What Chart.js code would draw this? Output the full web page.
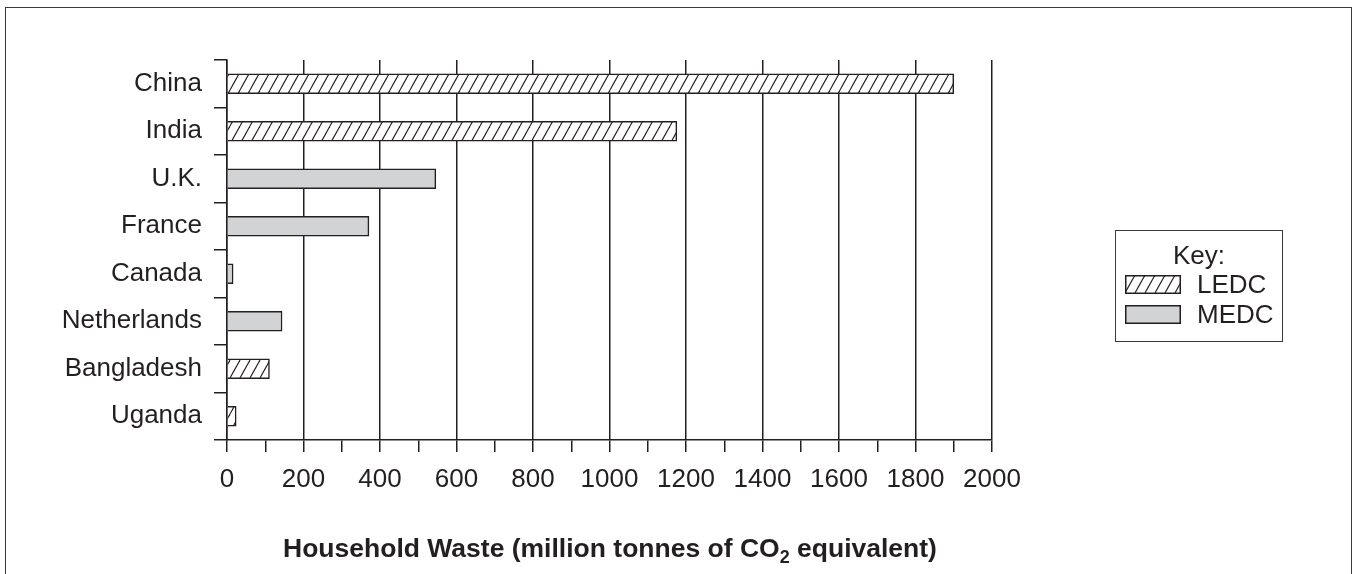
<!DOCTYPE html>
<html>
<head>
<meta charset="utf-8">
<script src="https://cdn.jsdelivr.net/npm/chart.js@4"></script>
<style>
  html, body { margin: 0; padding: 0; background: #fff; overflow: hidden; }
  body { width: 1357px; height: 574px; position: relative; font-family: "Liberation Sans", Arial, sans-serif; color: #231f20; }
  #frame { position: absolute; left: 5px; top: 7px; width: 1347px; height: 620px; border: 1.5px solid #3a3a3a; box-sizing: border-box; }
  #chart { position: absolute; left: 0; top: 0; }
  #xtitle { position: absolute; left: 0; width: 1220px; top: 533px; text-align: center; font-weight: bold; font-size: 26.5px; white-space: nowrap; }
  #xtitle sub { font-size: 18px; vertical-align: -6px; line-height: 0; }
  #key { position: absolute; left: 1115px; top: 230px; width: 168px; height: 112px; border: 1.5px solid #3a3a3a; box-sizing: border-box; font-size: 26px; }
  #key .ttl { position: absolute; left: 0; width: 100%; top: 9px; text-align: center; line-height: 30px; }
  #key .row { position: absolute; left: 9px; height: 30px; line-height: 30px; white-space: nowrap; }
  #key canvas { vertical-align: middle; margin-right: 16px; position: relative; top: -2px; }
</style>
</head>
<body>
<div id="frame"></div>
<canvas id="chart" width="1357" height="574"></canvas>
<div id="xtitle">Household Waste (million tonnes of CO<sub>2</sub> equivalent)</div>
<div id="key">
  <div class="ttl">Key:</div>
  <div class="row" style="top:38px"><canvas id="swLedc" width="56" height="19"></canvas>LEDC</div>
  <div class="row" style="top:68px"><canvas id="swMedc" width="56" height="19"></canvas>MEDC</div>
</div>
<script>
const countries = ["China", "India", "U.K.", "France", "Canada", "Netherlands", "Bangladesh", "Uganda"];
const waste = [1900, 1176, 546, 371, 16, 144, 111, 24];
const groups = ["LEDC", "LEDC", "MEDC", "MEDC", "MEDC", "MEDC", "LEDC", "LEDC"];
const xTicks = [0, 200, 400, 600, 800, 1000, 1200, 1400, 1600, 1800, 2000];

const ink = "#231f20";
const grey = "#d1d3d4";

function hatch(ctx) {
    let w = 10, h = 18;
    let c = document.createElement("canvas");
    c.width = w;
    c.height = h;
    let g = c.getContext("2d");
    g.fillStyle = "#fff";
    g.fillRect(0, 0, w, h);
    g.strokeStyle = ink;
    g.lineWidth = 1.1;
    for (let k = -1; k <= 1; k++) {
        g.beginPath();
        g.moveTo(k * w, h);
        g.lineTo(k * w + w, 0);
        g.stroke();
    }
    return ctx.createPattern(c, "repeat");
}

function swatch(id, fill) {
    let c = document.getElementById(id);
    let g = c.getContext("2d");
    g.fillStyle = fill === "hatch" ? hatch(g) : grey;
    g.fillRect(0, 0, c.width, c.height);
    g.strokeStyle = ink;
    g.lineWidth = 1.5;
    g.strokeRect(0.75, 0.75, c.width - 1.5, c.height - 1.5);
}

swatch("swLedc", "hatch");
swatch("swMedc", "grey");

const ctx = document.getElementById("chart").getContext("2d");
const pattern = hatch(ctx);

Chart.defaults.font.family = "'Liberation Sans', Arial, sans-serif";
Chart.defaults.font.size = 26;
Chart.defaults.color = ink;

new Chart(ctx, {
    type: "bar",
    data: {
        labels: countries,
        datasets: [{
            data: waste,
            backgroundColor: groups.map(g => g == "LEDC" ? pattern : grey),
            borderColor: ink,
            borderWidth: 1.5,
            barThickness: 20
        }]
    },
    options: {
        indexAxis: "y",
        responsive: false,
        animation: false,
        devicePixelRatio: 1,
        layout: { padding: { left: 0, top: 60, right: 365, bottom: 0 } },
        plugins: { legend: { display: false }, tooltip: { enabled: false } },
        scales: {
            x: {
                min: 0,
                max: 2000,
                ticks: {
                    stepSize: 100,
                    autoSkip: false,
                    maxRotation: 0,
                    padding: 12,
                    callback: v => xTicks.includes(v) ? v : ""
                },
                grid: {
                    color: c => (c.tick && xTicks.includes(c.tick.value)) ? ink : "rgba(0,0,0,0)",
                    tickColor: ink,
                    tickLength: 12,
                    lineWidth: 1.5
                },
                border: { display: true, color: ink, width: 1.5 },
                afterFit: s => { s.height = 134; }
            },
            y: {
                ticks: { padding: 12 },
                grid: {
                    offset: true,
                    drawOnChartArea: false,
                    color: ink,
                    tickLength: 13,
                    lineWidth: 1.5
                },
                border: { display: true, color: ink, width: 1.5 },
                afterFit: s => { s.width = 227; }
            }
        }
    }
});
</script>
</body>
</html>
